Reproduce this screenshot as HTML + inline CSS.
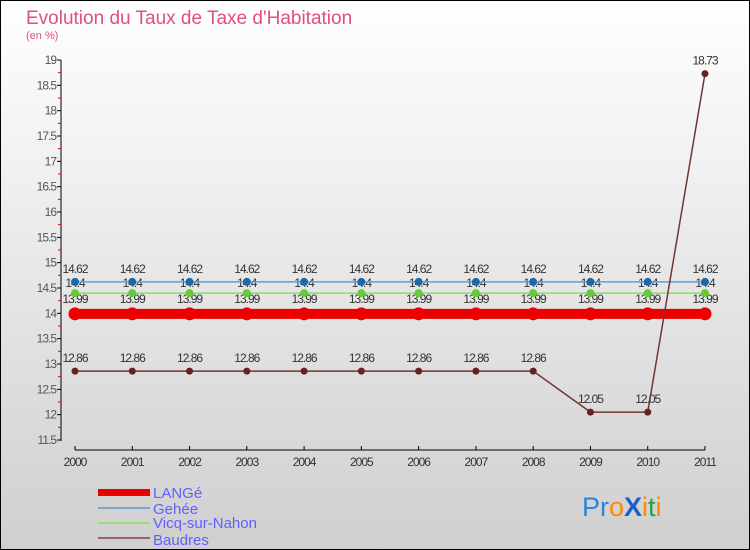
<!DOCTYPE html>
<html><head><meta charset="utf-8"><style>
body{margin:0}
svg{display:block;font-family:"Liberation Sans",sans-serif}
</style></head><body>
<svg id="c" width="750" height="550" xmlns="http://www.w3.org/2000/svg">
<defs><linearGradient id="bg" x1="0" y1="0" x2="0" y2="1"><stop offset="0" stop-color="#ffffff"/><stop offset="1" stop-color="#cfcfcf"/></linearGradient></defs>
<rect x="0.5" y="0.5" width="749" height="549" fill="url(#bg)" stroke="#000"/>
<text x="26" y="24" font-size="19" fill="#e0507a">Evolution du Taux de Taxe d'Habitation</text>
<text x="26" y="39" font-size="11" fill="#e0507a">(en %)</text>
<g id="axes"></g><g id="series"></g>
<g>
<rect x="98" y="489" width="52" height="7" fill="#ee0000"/>
<text x="153" y="498" font-size="15" fill="#6060ff">LANGé</text>
<rect x="98" y="507" width="52" height="2" fill="#7aa8cc"/>
<text x="153" y="514" font-size="15" fill="#6060ff">Gehée</text>
<rect x="98" y="522" width="52" height="2" fill="#99dd77"/>
<text x="153" y="528" font-size="15" fill="#6060ff">Vicq-sur-Nahon</text>
<rect x="98" y="537" width="52" height="2" fill="#996666"/>
<text x="153" y="545" font-size="15" fill="#6060ff">Baudres</text>
</g>
<g font-size="27">
<text x="582" y="516"><tspan fill="#2a86d6">Pr</tspan><tspan fill="#ff8a00">o</tspan><tspan fill="#1a5fcc" font-weight="bold">X</tspan><tspan fill="#ff8a00">i</tspan><tspan fill="#2aa040">t</tspan><tspan fill="#ff8a00">i</tspan></text>
</g>
</svg>
<script>
const years=["2000","2001","2002","2003","2004","2005","2006","2007","2008","2009","2010","2011"];
const yTicks=[11.5,12,12.5,13,13.5,14,14.5,15,15.5,16,16.5,17,17.5,18,18.5,19];
const lange=[13.99,13.99,13.99,13.99,13.99,13.99,13.99,13.99,13.99,13.99,13.99,13.99];
const gehee=[14.62,14.62,14.62,14.62,14.62,14.62,14.62,14.62,14.62,14.62,14.62,14.62];
const vicq=[14.4,14.4,14.4,14.4,14.4,14.4,14.4,14.4,14.4,14.4,14.4,14.4];
const baudres=[12.86,12.86,12.86,12.86,12.86,12.86,12.86,12.86,12.86,12.05,12.05,18.73];
const NS="http://www.w3.org/2000/svg";
const X=i=>75+i*(630/11);
const Y=v=>60+(19-v)*(380/7.5);
function mk(t,a,p){const e=document.createElementNS(NS,t);for(const k in a)e.setAttribute(k,a[k]);p.appendChild(e);return e;}
const ax=document.getElementById('axes'),sg=document.getElementById('series');
let l=mk('line',{x1:61,y1:60,x2:61,y2:441,stroke:'#000'},ax);


yTicks.forEach((v,k)=>{
 mk('line',{x1:57,x2:61,y1:Y(v),y2:Y(v),stroke:'#000'},ax);
 if(k<yTicks.length-1) mk('line',{x1:58,x2:61,y1:Y(v)-12.67,y2:Y(v)-12.67,stroke:'#e00'},ax);
 const t=mk('text',{x:56,y:Y(v)+4,'text-anchor':'end','font-size':12,fill:'#555','letter-spacing':'-1'},ax);
 t.textContent=String(v);
 
 
});
l=mk('line',{x1:75,y1:450,x2:705,y2:450,stroke:'#000'},ax);


years.forEach((y,i)=>{
 mk('line',{x1:X(i),x2:X(i),y1:446,y2:450,stroke:'#000'},ax);
 const t=mk('text',{x:X(i),y:466,'text-anchor':'middle','font-size':12,fill:'#333','letter-spacing':'-1'},ax);
 t.textContent=y;
 
 
});
function series(name,data,color,w,r,dot,labDy){
 const g=mk('g',{},sg);
 
 
 mk('polyline',{points:data.map((v,i)=>X(i)+','+Y(v)).join(' '),fill:'none',stroke:color,'stroke-width':w},g);
 data.forEach((v,i)=>{
  const c=mk('circle',{cx:X(i),cy:Y(v),r:r,fill:dot},g);
  
  
  const t=mk('text',{x:X(i),y:Y(v)+labDy,'text-anchor':'middle','font-size':12,fill:'#333','letter-spacing':'-1'},g);
  t.textContent=String(v);
  
  
 });
}
series('lange',lange,'#ee0000',10,6.5,'#ee0000',-11);
series('vicq',vicq,'#88dd66',1.5,4,'#66cc33',-6);
series('gehee',gehee,'#5aa0dd',1.5,4,'#1a6aaa',-9);
series('baudres',baudres,'#773333',1.5,3.5,'#662222',-9);
</script>
</body></html>
